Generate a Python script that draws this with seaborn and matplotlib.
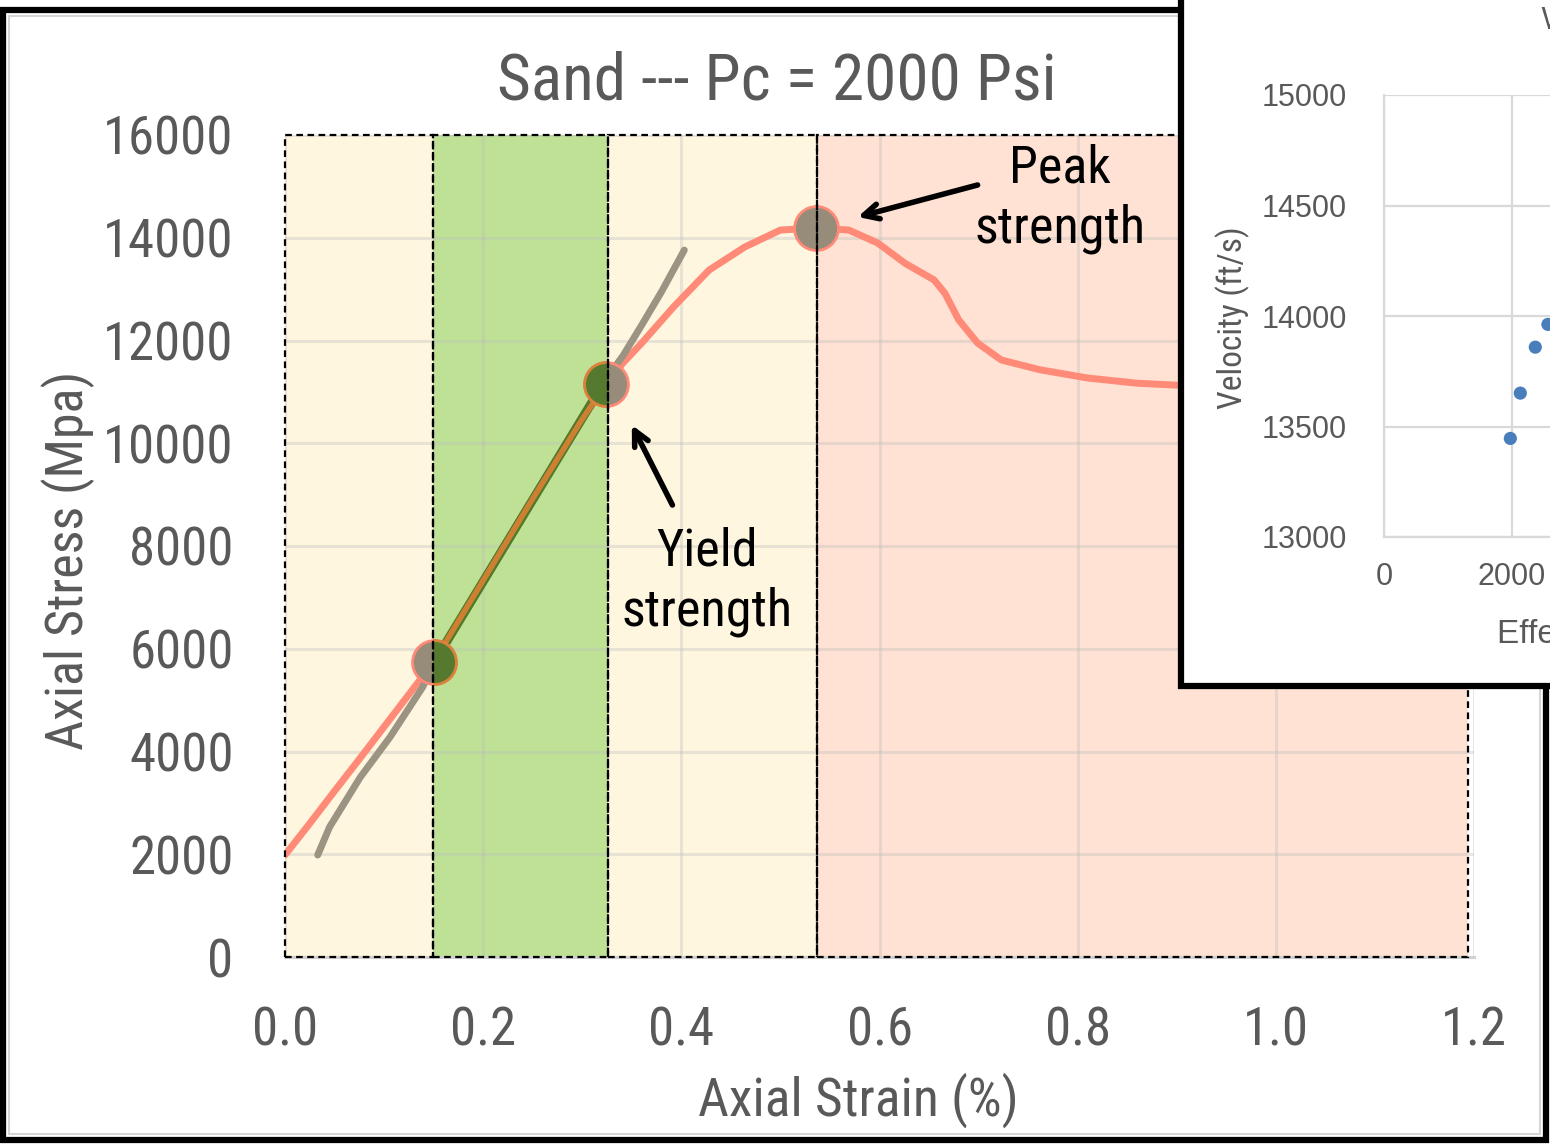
import matplotlib
matplotlib.use("Agg")
import matplotlib.pyplot as plt
import seaborn as sns
from matplotlib.patches import Rectangle
from matplotlib import font_manager as fm

# ---------------- data ----------------
strain_curve = [0.000, 0.025, 0.050, 0.075, 0.100, 0.125, 0.150, 0.200, 0.250, 0.300, 0.324,
                0.341, 0.360, 0.392, 0.428, 0.464, 0.500, 0.536, 0.569, 0.598, 0.626, 0.655,
                0.666, 0.680, 0.699, 0.723, 0.762, 0.810, 0.859, 0.900, 0.950, 1.000, 1.100]
stress_curve = [1985, 2600, 3230, 3850, 4480, 5110, 5742, 7330, 8920, 10470, 11153,
                11560, 11950, 12650, 13370, 13820, 14150, 14190, 14150, 13900, 13500, 13180,
                12920, 12400, 11950, 11620, 11430, 11270, 11170, 11130, 11100, 11080, 11050]

strain_linear = [0.033, 0.045, 0.076, 0.106, 0.139, 0.150, 0.324, 0.341, 0.360, 0.380, 0.403]
stress_linear = [1985, 2530, 3500, 4280, 5255, 5720, 11250, 11700, 12300, 12950, 13760]

key_strain = [0.150, 0.324, 0.536]
key_stress = [5742, 11153, 14190]

zone_edges = [0.0, 0.1495, 0.326, 0.537, 1.194]
zone_colors = ["#FFF6E0", "#BEE196", "#FFF6E0", "#FFE2D3"]

x_ticks = [0.0, 0.2, 0.4, 0.6, 0.8, 1.0, 1.2]
x_labels = ["0.0", "0.2", "0.4", "0.6", "0.8", "1.0", "1.2"]
y_ticks = [0, 2000, 4000, 6000, 8000, 10000, 12000, 14000, 16000]
y_labels = ["0", "2000", "4000", "6000", "8000", "10000", "12000", "14000", "16000"]

inset_stress = [1974, 2130, 2364, 2561]
inset_velocity = [13446, 13651, 13859, 13962]
inset_xticks = [0, 2000, 4000, 6000, 8000, 10000]
inset_yticks = [13000, 13500, 14000, 14500, 15000]

# ---------------- style ----------------
sns.set_theme(style="white")

names = {f.name for f in fm.fontManager.ttflist}
cond = [n for n in ["Liberation Sans Narrow", "DejaVu Sans Condensed", "Roboto Condensed",
                    "Open Sans Condensed"] if n in names]
NARROW = cond + ["DejaVu Sans"]
REGULAR = ["Liberation Sans", "DejaVu Sans"]
plt.rcParams["font.family"] = NARROW
plt.rcParams["font.stretch"] = "condensed"

GRAYTXT = "#595959"
RED = "#FF8A78"
GRAYLINE = "#9C9482"

W, H = 1550, 1146
fig = plt.figure(figsize=(W / 100, H / 100), dpi=100)
fig.patch.set_facecolor("white")


def fx(px):
    return px / W


def fy(py):
    return 1 - py / H


# ---------------- main axes ----------------
ax = fig.add_axes([fx(285), fy(957), fx(1474) - fx(285), fy(135) - fy(957)])
ax.set_zorder(1)
ax.set_xlim(0, 1.2)
ax.set_ylim(0, 16000)
ax.set_facecolor("white")

for i in range(len(zone_colors)):
    ax.add_patch(Rectangle((zone_edges[i], 0), zone_edges[i + 1] - zone_edges[i], 16000,
                           facecolor=zone_colors[i], edgecolor="none", zorder=1, clip_on=False))

ax.set_axisbelow("line")
ax.grid(True, color="#BDBDBD", lw=2.2, alpha=0.35)
for s in ["top", "right", "left"]:
    ax.spines[s].set_visible(False)
ax.spines["bottom"].set_color("#D0D0D0")
ax.spines["bottom"].set_linewidth(2.2)

ax.set_xticks(x_ticks)
ax.set_xticklabels(x_labels)
ax.set_yticks(y_ticks)
ax.set_yticklabels(y_labels)
ax.tick_params(axis="both", length=0, labelsize=38, colors=GRAYTXT)
ax.tick_params(axis="y", pad=37)
ax.tick_params(axis="x", pad=35)

# curves
sns.lineplot(x=strain_curve, y=stress_curve, color=RED, lw=5, ax=ax, zorder=3,
             sort=False, estimator=None)
sns.lineplot(x=strain_linear, y=stress_linear, color=GRAYLINE, lw=5, ax=ax, zorder=3.1,
             sort=False, estimator=None)

green_clip = Rectangle((zone_edges[1], 0), zone_edges[2] - zone_edges[1], 16000,
                       transform=ax.transData)
l1, = ax.plot(strain_linear, stress_linear, color="#4E7A2A", lw=6.5, zorder=3.2)
l2, = ax.plot(strain_curve, stress_curve, color="#CD7F32", lw=4, zorder=3.3)
l1.set_clip_path(green_clip)
l2.set_clip_path(green_clip)

# key points
sns.scatterplot(x=key_strain, y=key_stress, s=1000, color="#978C7A", edgecolor=RED,
                linewidth=2, ax=ax, zorder=4)
sc = ax.scatter(key_strain, key_stress, s=1000, color="#557A2F", edgecolor="#D9823A",
                linewidth=2, zorder=4.1)
sc.set_clip_path(green_clip)

# dashed zone borders
for i in range(len(zone_colors)):
    ax.add_patch(Rectangle((zone_edges[i], 0), zone_edges[i + 1] - zone_edges[i], 16000,
                           fill=False, edgecolor="black", lw=1.6, ls=(0, (3, 2)),
                           zorder=5, clip_on=False))

# annotations
ax.annotate("", xy=(0.578, 14404), xytext=(0.699, 15027),
            arrowprops=dict(arrowstyle="->,head_length=0.9,head_width=0.45", lw=4,
                            color="black", shrinkA=0, shrinkB=0), zorder=6)
ax.text(0.782, 14754, "Peak\nstrength", ha="center", va="center", fontsize=37.5,
        color="black", linespacing=1.25, zorder=6)
ax.annotate("", xy=(0.350, 10355), xytext=(0.391, 8798),
            arrowprops=dict(arrowstyle="->,head_length=0.9,head_width=0.45", lw=4,
                            color="black", shrinkA=0, shrinkB=0), zorder=6)
ax.text(0.426, 7299, "Yield\nstrength", ha="center", va="center", fontsize=37.5,
        color="black", linespacing=1.25, zorder=6)

# titles / labels
fig.text(fx(777), fy(81), "Sand --- Pc = 2000 Psi", ha="center", va="center",
         fontsize=47, color=GRAYTXT)
fig.text(fx(68), fy(560), "Axial Stress (Mpa)", ha="center", va="center", rotation=90,
         fontsize=37.5, color=GRAYTXT)
fig.text(fx(858), fy(1100), "Axial Strain (%)", ha="center", va="center",
         fontsize=38.5, color=GRAYTXT)

# outer frame
fig.add_artist(Rectangle((fx(3), fy(1140)), fx(1546) - fx(3), fy(10) - fy(1140),
                         fill=False, edgecolor="black", lw=4.5, transform=fig.transFigure,
                         zorder=10))
fig.add_artist(Rectangle((fx(9), fy(1134)), fx(1540) - fx(9), fy(16) - fy(1134),
                         fill=False, edgecolor="#D5D5D5", lw=1.5, transform=fig.transFigure,
                         zorder=10))

# ---------------- inset ----------------
fig.add_artist(Rectangle((fx(1181), fy(686)), fx(1620) - fx(1181), fy(-20) - fy(686),
                         facecolor="white", edgecolor="black", lw=4.5,
                         transform=fig.transFigure, zorder=11))

ax2 = fig.add_axes([fx(1384), fy(537), 640 / W, (537 - 95) / H])
ax2.set_zorder(12)
ax2.set_facecolor("white")
ax2.set_xlim(0, 10000)
ax2.set_ylim(13000, 15000)
ax2.set_xticks(inset_xticks)
ax2.set_yticks(inset_yticks)
ax2.set_xticklabels([str(v) for v in inset_xticks])
ax2.set_yticklabels([str(v) for v in inset_yticks])
ax2.grid(True, color="#D9D9D9", lw=1.6)
ax2.set_axisbelow(True)
for s in ["top", "right"]:
    ax2.spines[s].set_visible(False)
for s in ["left", "bottom"]:
    ax2.spines[s].set_color("#D9D9D9")
    ax2.spines[s].set_linewidth(1.6)
ax2.tick_params(axis="both", length=0, labelsize=22, colors=GRAYTXT)
ax2.tick_params(axis="y", pad=27)
ax2.tick_params(axis="x", pad=18)
for lab in ax2.get_xticklabels() + ax2.get_yticklabels():
    lab.set_family(REGULAR)
    lab.set_stretch("normal")

sns.scatterplot(x=inset_stress, y=inset_velocity, s=90, color="#4A7EBB", edgecolor="none",
                ax=ax2, zorder=3, clip_on=False)

fig.text(fx(1233), fy(318), "Velocity (ft/s)", ha="center", va="center", rotation=90,
         fontsize=24, color=GRAYTXT, zorder=13)
fig.text(fx(1497), fy(635), "Effective Stress (psi)", ha="left", va="center",
         fontsize=24, color=GRAYTXT, family=REGULAR, stretch="normal", zorder=13)
fig.text(fx(1541), fy(20), "Velocity vs Effective Stress", ha="left", va="center",
         fontsize=22, color=GRAYTXT, zorder=13)

fig.savefig("out.png", dpi=100)
